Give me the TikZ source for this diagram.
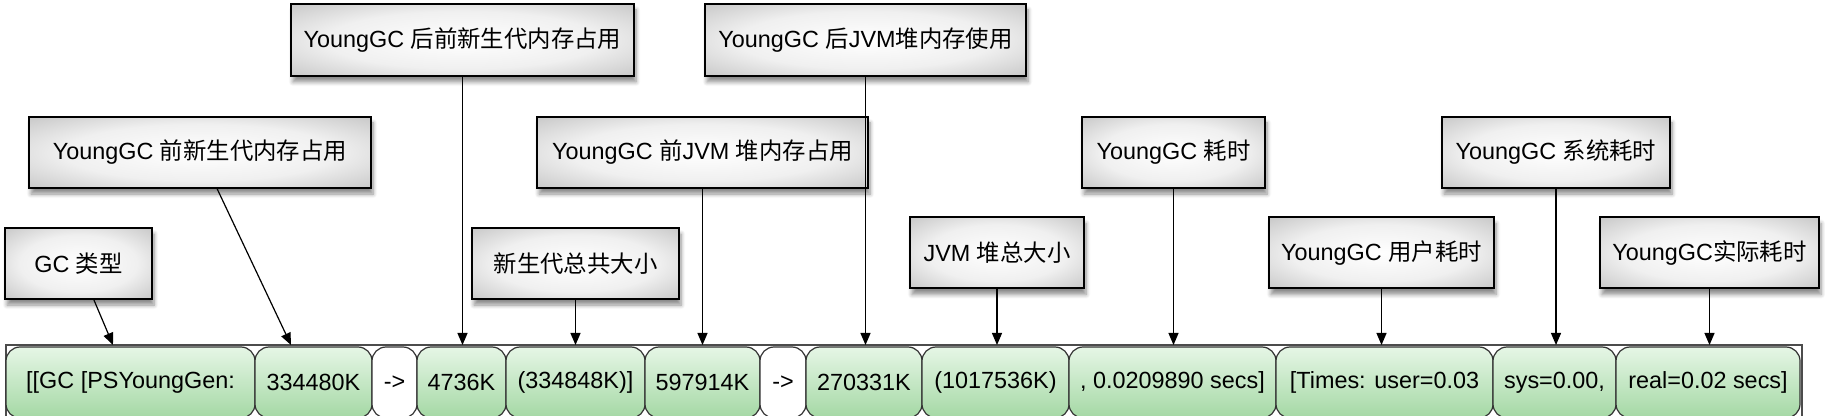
\documentclass[tikz,border=0pt]{standalone}
\usepackage{fontspec}
\setmainfont{Liberation Sans}
\newfontfamily\cjk{Noto Sans CJK SC}
\usepackage{tikz}
\usetikzlibrary{arrows.meta,shadows.blur}

\pgfdeclareradialshading{silver}{\pgfpointorigin}{rgb(0bp)=(1,1,1); rgb(20bp)=(.94,.94,.94); rgb(50bp)=(.64,.64,.64); rgb(71bp)=(.5,.5,.5)}
\definecolor{capsuletop}{HTML}{E6F6E6}
\definecolor{capsulebot}{HTML}{A4D8A4}

\begin{document}
\begin{tikzpicture}[x=0.5pt,y=-0.5pt,
  font=\fontsize{11.7}{14}\selectfont,
  label box/.style={draw=black,line width=1pt,shading=silver,inner sep=0pt,minimum height=35.5pt,
    blur shadow={shadow xshift=1pt,shadow yshift=-3pt,shadow blur steps=6,shadow opacity=45}},
  cell/.style={draw=black!80,line width=0.6pt,rounded corners=7pt,top color=capsuletop,bottom color=capsulebot,
    inner sep=0pt,minimum height=35.5pt},
  arrow cell/.style={cell,top color=white,bottom color=white},
  pointer/.style={line width=0.6pt,-{Triangle[width=5pt,length=6pt]}}]
\useasboundingbox (0,0) rectangle (1825,416);
\clip (0,0) rectangle (1825,416);
% the log line
\draw[black!70,line width=0.8pt] (6,345) rectangle (1802,440);
\node[cell,minimum width=124.5pt] (c1) at (130.5,382.5) {[[GC [PSYoungGen:};
\node[cell,minimum width=58.5pt] (c2) at (313.5,382.5) {334480K};
\node[arrow cell,minimum width=22.5pt] (c3) at (394.5,382.5) {->};
\node[cell,minimum width=44.5pt] (c4) at (461.5,382.5) {4736K};
\node[cell,minimum width=69.5pt] (c5) at (575.5,382.5) {(334848K)]};
\node[cell,minimum width=57.5pt] (c6) at (702.5,382.5) {597914K};
\node[arrow cell,minimum width=23pt] (c7) at (783,382.5) {->};
\node[cell,minimum width=58pt] (c8) at (864,382.5) {270331K};
\node[cell,minimum width=73.5pt] (c9) at (995.5,382.5) {(1017536K)};
\node[cell,minimum width=103.5pt] (c10) at (1172.5,382.5) {, 0.0209890 secs]};
\node[cell,minimum width=108.5pt] (c11) at (1384.5,382.5) {[Times: user=0.03};
\node[cell,minimum width=61.5pt] (c12) at (1554.5,382.5) {sys=0.00,};
\node[cell,minimum width=92pt] (c13) at (1708,382.5) {real=0.02 secs]};
% the labels
\node[label box,minimum width=73.5pt] (gctype) at (78.5,263.5) {GC {\cjk 类型}};
\node[label box,minimum width=171pt] (youngbefore) at (200,152.5) {YoungGC {\cjk 前新生代内存占用}};
\node[label box,minimum width=171.5pt,minimum height=36pt] (youngafter) at (462.5,40) {YoungGC {\cjk 后前新生代内存占用}};
\node[label box,minimum width=103.5pt] (youngtotal) at (575.5,263.5) {{\cjk 新生代总共大小}};
\node[label box,minimum width=165.5pt] (heapbefore) at (702.5,152.5) {YoungGC {\cjk 前}JVM {\cjk 堆内存占用}};
\node[label box,minimum width=160.5pt,minimum height=36pt] (heapafter) at (865.5,40) {YoungGC {\cjk 后}JVM{\cjk 堆内存使用}};
\node[label box,minimum width=87pt] (heaptotal) at (997,253) {JVM {\cjk 堆总大小}};
\node[label box,minimum width=91.5pt] (gctime) at (1173.5,152.5) {YoungGC {\cjk 耗时}};
\node[label box,minimum width=112.5pt] (usertime) at (1381.5,253) {YoungGC {\cjk 用户耗时}};
\node[label box,minimum width=114pt] (systime) at (1556,152.5) {YoungGC {\cjk 系统耗时}};
\node[label box,minimum width=109.5pt] (realtime) at (1709.5,253) {YoungGC{\cjk 实际耗时}};
% pointers
\coordinate (tip1) at (113,345);
\coordinate (tip2) at (291,345);
\draw[pointer] (gctype) -- (tip1);
\draw[pointer] (youngbefore) -- (tip2);
\draw[pointer] (youngafter) -- (youngafter |- tip1);
\draw[pointer] (youngtotal) -- (youngtotal |- tip1);
\draw[pointer] (heapbefore) -- (heapbefore |- tip1);
\draw[pointer] (heapafter) -- (heapafter |- tip1);
\draw[pointer] (heaptotal) -- (heaptotal |- tip1);
\draw[pointer] (gctime) -- (gctime |- tip1);
\draw[pointer] (usertime) -- (usertime |- tip1);
\draw[pointer] (systime) -- (systime |- tip1);
\draw[pointer] (realtime) -- (realtime |- tip1);
\end{tikzpicture}
\end{document}
